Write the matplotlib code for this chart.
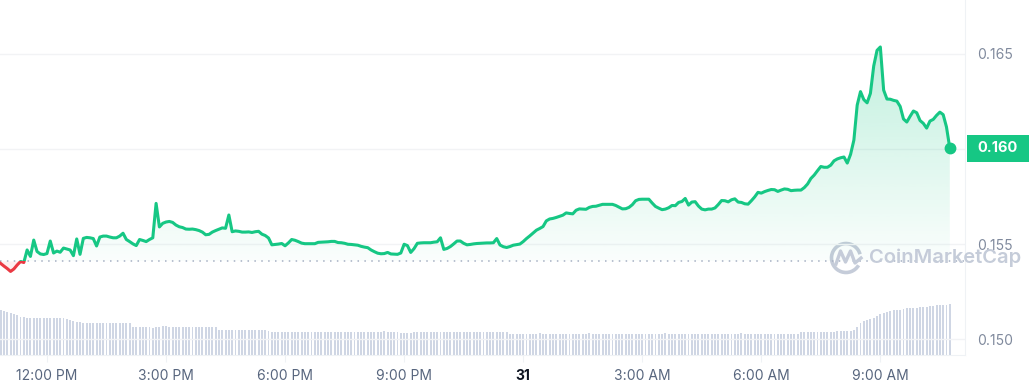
import numpy as np
import pandas as pd
import matplotlib
matplotlib.use('Agg')
import matplotlib.pyplot as plt
import matplotlib.dates as mdates
from matplotlib.colors import to_rgb
from matplotlib.patches import Rectangle, PathPatch, Arc
from matplotlib.path import Path
from matplotlib.lines import Line2D
from matplotlib.ticker import FuncFormatter
from matplotlib.transforms import IdentityTransform

# 24h price, one point every 5 minutes
start = '2023-10-30 10:45'
prices = [
    0.15411, 0.15398, 0.15384, 0.15371, 0.15356, 0.15369, 0.15390, 0.15408, 0.15403, 0.15469,
    0.15435, 0.15521, 0.15461, 0.15448, 0.15445, 0.15450, 0.15516, 0.15453, 0.15463, 0.15457,
    0.15479, 0.15474, 0.15469, 0.15439, 0.15527, 0.15446, 0.15530, 0.15535, 0.15533, 0.15529,
    0.15490, 0.15537, 0.15542, 0.15542, 0.15537, 0.15533, 0.15533, 0.15542, 0.15557, 0.15524,
    0.15513, 0.15501, 0.15492, 0.15524, 0.15519, 0.15513, 0.15524, 0.15533, 0.15714, 0.15590,
    0.15609, 0.15616, 0.15619, 0.15614, 0.15600, 0.15591, 0.15587, 0.15579, 0.15578, 0.15579,
    0.15576, 0.15571, 0.15563, 0.15549, 0.15551, 0.15563, 0.15571, 0.15578, 0.15585, 0.15583,
    0.15653, 0.15565, 0.15569, 0.15567, 0.15563, 0.15563, 0.15564, 0.15561, 0.15565, 0.15567,
    0.15552, 0.15545, 0.15532, 0.15496, 0.15498, 0.15500, 0.15503, 0.15491, 0.15506, 0.15524,
    0.15520, 0.15513, 0.15505, 0.15502, 0.15502, 0.15502, 0.15502, 0.15509, 0.15510, 0.15511,
    0.15512, 0.15514, 0.15514, 0.15508, 0.15507, 0.15504, 0.15499, 0.15498, 0.15496, 0.15494,
    0.15488, 0.15484, 0.15481, 0.15469, 0.15460, 0.15452, 0.15449, 0.15450, 0.15456, 0.15448,
    0.15447, 0.15446, 0.15453, 0.15499, 0.15492, 0.15456, 0.15476, 0.15504, 0.15506, 0.15507,
    0.15507, 0.15507, 0.15510, 0.15512, 0.15533, 0.15472, 0.15477, 0.15487, 0.15501, 0.15516,
    0.15516, 0.15504, 0.15496, 0.15498, 0.15501, 0.15503, 0.15504, 0.15505, 0.15506, 0.15506,
    0.15507, 0.15529, 0.15495, 0.15486, 0.15482, 0.15487, 0.15494, 0.15497, 0.15500, 0.15513,
    0.15529, 0.15543, 0.15558, 0.15573, 0.15582, 0.15592, 0.15622, 0.15632, 0.15635, 0.15640,
    0.15646, 0.15652, 0.15664, 0.15661, 0.15659, 0.15678, 0.15685, 0.15684, 0.15683, 0.15693,
    0.15698, 0.15699, 0.15704, 0.15709, 0.15709, 0.15709, 0.15709, 0.15703, 0.15694, 0.15685,
    0.15686, 0.15693, 0.15707, 0.15728, 0.15735, 0.15736, 0.15736, 0.15736, 0.15716, 0.15698,
    0.15689, 0.15681, 0.15684, 0.15691, 0.15703, 0.15702, 0.15719, 0.15724, 0.15740, 0.15705,
    0.15721, 0.15723, 0.15700, 0.15684, 0.15680, 0.15684, 0.15684, 0.15690, 0.15708, 0.15729,
    0.15728, 0.15722, 0.15733, 0.15738, 0.15721, 0.15719, 0.15712, 0.15710, 0.15728, 0.15748,
    0.15772, 0.15768, 0.15776, 0.15782, 0.15787, 0.15786, 0.15777, 0.15784, 0.15790, 0.15788,
    0.15781, 0.15783, 0.15784, 0.15784, 0.15797, 0.15816, 0.15845, 0.15863, 0.15886, 0.15908,
    0.15904, 0.15904, 0.15915, 0.15938, 0.15948, 0.15954, 0.15958, 0.15926, 0.15972, 0.16047,
    0.16231, 0.16302, 0.16260, 0.16243, 0.16293, 0.16437, 0.16519, 0.16537, 0.16310, 0.16263,
    0.16262, 0.16256, 0.16252, 0.16224, 0.16158, 0.16142, 0.16172, 0.16200, 0.16191, 0.16150,
    0.16135, 0.16110, 0.16147, 0.16156, 0.16177, 0.16194, 0.16181, 0.16116, 0.16005,
]

# volume (millions) for the same 5 minute steps
volumes = [
    4.50, 4.50, 4.40, 4.30, 4.20, 4.10, 4.00, 3.80, 3.80, 3.70,
    3.67, 3.67, 3.66, 3.67, 3.67, 3.67, 3.68, 3.67, 3.67, 3.66,
    3.67, 3.60, 3.50, 3.40, 3.30, 3.30, 3.17, 3.17, 3.17, 3.18,
    3.17, 3.20, 3.23, 3.17, 3.17, 3.17, 3.17, 3.18, 3.17, 3.17,
    3.17, 2.80, 2.80, 2.80, 2.80, 2.80, 2.78, 2.67, 2.80, 2.80,
    2.90, 2.90, 2.80, 2.80, 2.80, 2.80, 2.80, 2.80, 2.80, 2.80,
    2.80, 2.80, 2.80, 2.80, 2.80, 2.80, 2.80, 2.47, 2.47, 2.47,
    2.47, 2.47, 2.47, 2.47, 2.47, 2.47, 2.47, 2.47, 2.47, 2.47,
    2.47, 2.47, 2.40, 2.33, 2.33, 2.33, 2.33, 2.33, 2.33, 2.33,
    2.33, 2.33, 2.33, 2.33, 2.33, 2.33, 2.33, 2.33, 2.33, 2.33,
    2.33, 2.33, 2.33, 2.33, 2.33, 2.33, 2.33, 2.33, 2.33, 2.33,
    2.33, 2.33, 2.33, 2.27, 2.27, 2.27, 2.30, 2.37, 2.33, 2.33,
    2.33, 2.33, 2.20, 2.20, 2.20, 2.20, 2.33, 2.33, 2.33, 2.33,
    2.33, 2.33, 2.33, 2.33, 2.33, 2.33, 2.33, 2.33, 2.33, 2.33,
    2.33, 2.33, 2.33, 2.33, 2.33, 2.33, 2.30, 2.30, 2.30, 2.30,
    2.30, 2.30, 2.30, 2.30, 2.30, 2.15, 2.15, 2.15, 2.15, 2.15,
    2.15, 2.13, 2.15, 2.15, 2.17, 2.15, 2.15, 2.15, 2.13, 2.15,
    2.15, 2.15, 2.15, 2.13, 2.15, 2.15, 2.15, 2.15, 2.15, 2.17,
    2.15, 2.15, 2.13, 2.15, 2.15, 2.15, 2.15, 2.15, 2.15, 2.15,
    2.15, 2.15, 2.15, 2.15, 2.13, 2.15, 2.15, 2.15, 2.15, 2.15,
    2.15, 2.15, 2.17, 2.15, 2.15, 2.15, 2.13, 2.15, 2.15, 2.15,
    2.15, 2.15, 2.15, 2.15, 2.15, 2.15, 2.15, 2.15, 2.13, 2.15,
    2.15, 2.15, 2.15, 2.15, 2.15, 2.17, 2.15, 2.15, 2.15, 2.15,
    2.15, 2.15, 2.15, 2.13, 2.15, 2.15, 2.15, 2.15, 2.15, 2.15,
    2.15, 2.15, 2.15, 2.30, 2.30, 2.30, 2.30, 2.30, 2.30, 2.30,
    2.30, 2.30, 2.30, 2.30, 2.45, 2.45, 2.45, 2.45, 2.45, 2.50,
    2.80, 3.25, 3.40, 3.50, 3.65, 3.75, 3.95, 4.10, 4.25, 4.35,
    4.42, 4.46, 4.50, 4.52, 4.58, 4.67, 4.70, 4.73, 4.75, 4.78,
    4.80, 4.85, 4.90, 4.93, 4.96, 4.98, 5.00, 5.05, 5.13,
]

tick_times = ['2023-10-30 12:00', '2023-10-30 15:00', '2023-10-30 18:00', '2023-10-30 21:00',
              '2023-10-31 00:00', '2023-10-31 03:00', '2023-10-31 06:00', '2023-10-31 09:00']
tick_labels = ['12:00 PM', '3:00 PM', '6:00 PM', '9:00 PM', '31', '3:00 AM', '6:00 AM', '9:00 AM']
price_ticks = [0.150, 0.155, 0.160, 0.165]

GREEN = '#16c784'
RED = '#ea3943'
W, H = 1032, 390

times = pd.date_range(start, periods=len(prices), freq='5min')
x = mdates.date2num(times)
p = np.array(prices)
base = prices[0]
last_lbl = f'{p[-1]:.3f}'

plt.rcParams['font.family'] = ['Inter', 'DejaVu Sans']
fig = plt.figure(figsize=(W / 100, H / 100), dpi=100)
ax = fig.add_axes([0, 35 / H, 965 / W, 355 / H])
ax2 = ax.twinx()
ax.set_zorder(ax2.get_zorder() + 1)
ax.patch.set_visible(False)

# volume bars
ax2.bar(x, volumes, width=2.9 / 1440, color='#cfd6e4', linewidth=0)
ax2.set_ylim(0, 35.5)
ax2.axis('off')

# gradient fill above the open price
poly = ax.fill_between(x, p, base, where=p >= base, interpolate=True,
                       facecolor='none', edgecolor='none')
clip = PathPatch(Path.make_compound_path(*poly.get_paths()), transform=ax.transData,
                 facecolor='none', edgecolor='none')
ax.add_patch(clip)
grad = np.zeros((256, 1, 4))
grad[..., :3] = to_rgb(GREEN)
grad[:, 0, 3] = np.linspace(0.27, 0.02, 256)
im = ax.imshow(grad, extent=[x[0], x[-1], base, p.max()], aspect='auto',
               origin='upper', zorder=1, interpolation='bilinear')
im.set_clip_path(clip)
ax.fill_between(x, p, base, where=p < base, interpolate=True, color=RED, alpha=0.08, lw=0)

# line, green above open, red below
ln_g, = ax.plot(x, p, color=GREEN, lw=2.2, solid_joinstyle='round', zorder=3)
ln_g.set_clip_path(Rectangle((0, base), 1, 1, transform=ax.get_yaxis_transform()))
ln_r, = ax.plot(x, p, color=RED, lw=2.2, solid_joinstyle='round', zorder=3)
ln_r.set_clip_path(Rectangle((0, base - 1), 1, 1, transform=ax.get_yaxis_transform()))
ax.axhline(base, color='#a6b0c3', lw=1.1, ls=(0, (1, 3.5)), zorder=2)
ax.plot(x[-1], p[-1], 'o', color=GREEN, ms=7.5, zorder=4)

ax.set_xlim(x[0] + 4 / 1440, x[-1] + 23 / 1440)
ax.set_ylim(0.149164, 0.16784)

# the tick under the price tag is covered by the tag itself
ax.set_yticks(price_ticks)
ax.yaxis.set_major_formatter(FuncFormatter(lambda v, _: '' if f'{v:.3f}' == last_lbl else f'{v:.3f}'))
ax.yaxis.tick_right()
ax.grid(axis='y', color='#f2f3f5', lw=1)
ax.set_axisbelow(True)
ax.tick_params(axis='y', length=0, pad=9, labelcolor='#808a9d', labelsize=10)

ax.set_xticks(mdates.date2num(pd.to_datetime(tick_times)))
ax.set_xticklabels(tick_labels)
ax.tick_params(axis='x', length=5, color='#eff2f5', labelcolor='#58667e', labelsize=10, pad=5)
day = ax.get_xticklabels()[4]
day.set_fontweight('bold')
day.set_color('#0d1421')

for s in ['top', 'left']:
    ax.spines[s].set_visible(False)
for s in ['right', 'bottom']:
    ax.spines[s].set_color('#eff2f5')

# current price tag
yd = ax.transData.transform((x[-1], p[-1]))[1]
fig.add_artist(Rectangle((967 / W, (yd - 13.5) / H), 62 / W, 27 / H,
                         transform=fig.transFigure, facecolor=GREEN, edgecolor='none'))
fig.text(998 / W, yd / H, last_lbl, ha='center', va='center',
         color='white', fontsize=10.5, fontweight='bold')

# watermark
wm = '#c5ccd9'
fig.add_artist(Arc((846, H - 258), 29, 29, theta1=15, theta2=330, lw=2.6,
                   color=wm, transform=IdentityTransform()))
fig.add_artist(Line2D([836, 840.5, 845.5, 850.5, 855, 861], [H - 264, H - 251, H - 262, H - 251, H - 263, H - 258],
                      lw=2.4, color=wm, transform=IdentityTransform(), solid_joinstyle='round'))
fig.text(869 / W, 1 - 258 / H, 'CoinMarketCap', fontsize=14.5, fontweight='semibold',
         color=wm, va='center', ha='left')

fig.savefig('out.png', dpi=100, facecolor='white')
